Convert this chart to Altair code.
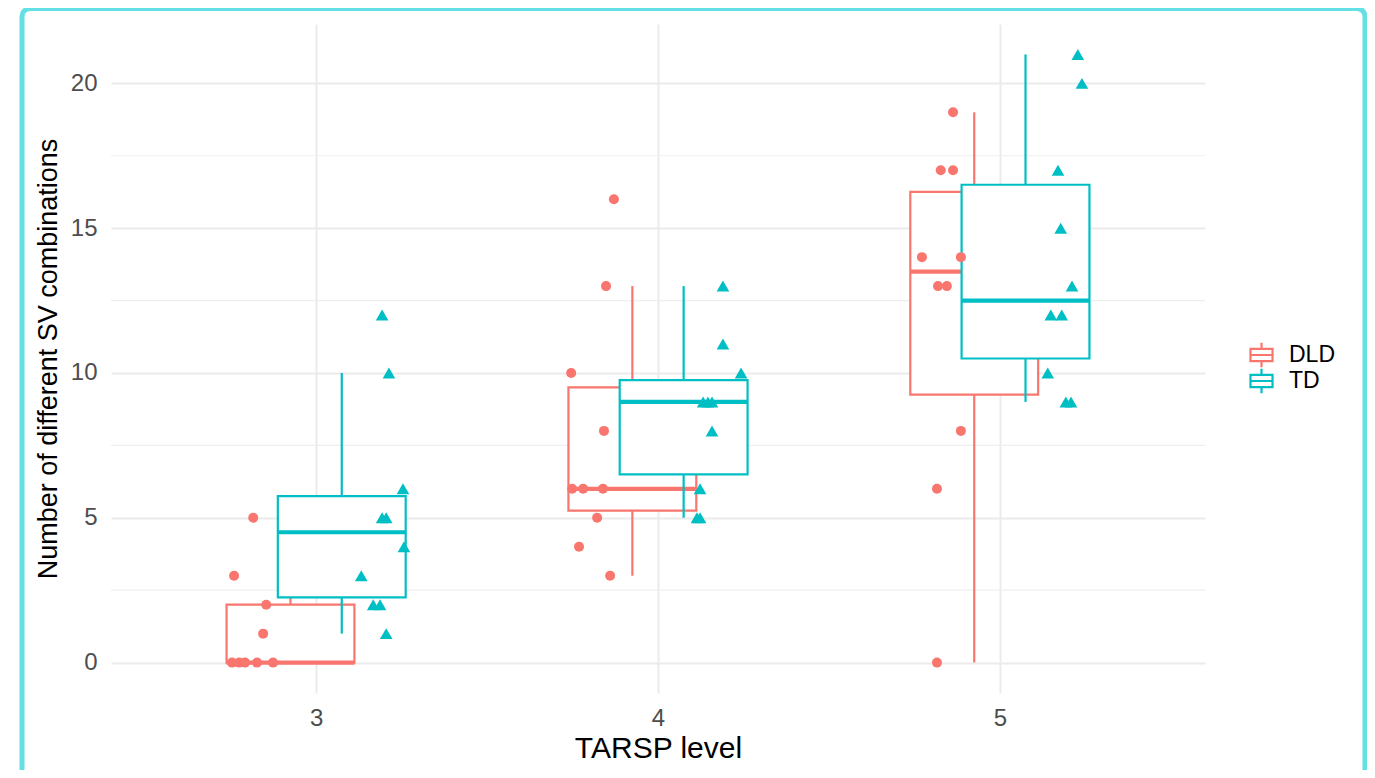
import altair as alt
import pandas as pd
import numpy as np

LEVELS = [3, 4, 5]
GROUPS = ["DLD", "TD"]
COLORS = ["#F8766D", "#00BFC4"]
Y_BREAKS = [0, 5, 10, 15, 20]
MINOR_BREAKS = [2.5, 7.5, 12.5, 17.5]

# values, with the horizontal jitter of each point
DLD_3 = [5, 3, 2, 1, 0, 0, 0, 0, 0]
DLD_3_JIT = [-0.184, -0.240, -0.146, -0.155, -0.246, -0.225, -0.208, -0.173, -0.126]
TD_3 = [12, 10, 6, 5, 5, 4, 3, 2, 2, 1]
TD_3_JIT = [0.193, 0.213, 0.254, 0.193, 0.205, 0.257, 0.132, 0.167, 0.187, 0.205]
DLD_4 = [16, 13, 10, 8, 6, 6, 6, 5, 4, 3]
DLD_4_JIT = [-0.129, -0.152, -0.254, -0.158, -0.251, -0.219, -0.161, -0.178, -0.231, -0.140]
TD_4 = [13, 11, 10, 9, 9, 9, 8, 6, 5, 5]
TD_4_JIT = [0.190, 0.190, 0.243, 0.132, 0.146, 0.158, 0.158, 0.123, 0.114, 0.123]
DLD_5 = [19, 17, 17, 14, 14, 13, 13, 8, 6, 0]
DLD_5_JIT = [-0.137, -0.173, -0.137, -0.228, -0.114, -0.181, -0.155, -0.114, -0.184, -0.184]
TD_5 = [21, 20, 17, 15, 13, 12, 12, 10, 9, 9]
TD_5_JIT = [0.228, 0.240, 0.170, 0.178, 0.211, 0.149, 0.181, 0.140, 0.193, 0.208]

SERIES = {
    (3, "DLD"): (DLD_3, DLD_3_JIT), (3, "TD"): (TD_3, TD_3_JIT),
    (4, "DLD"): (DLD_4, DLD_4_JIT), (4, "TD"): (TD_4, TD_4_JIT),
    (5, "DLD"): (DLD_5, DLD_5_JIT), (5, "TD"): (TD_5, TD_5_JIT),
}

BOX_SHIFT = 0.075
BOX_HALF = 0.187

pts, boxes = [], []
for (lvl, grp), (vals, jit) in SERIES.items():
    for v, j in zip(vals, jit):
        pts.append({"group": grp, "x": lvl + j, "value": v})
    a = np.array(vals, dtype=float)
    q1, med, q3 = np.percentile(a, [25, 50, 75])
    iqr = q3 - q1
    wlo = a[a >= q1 - 1.5 * iqr].min()
    whi = a[a <= q3 + 1.5 * iqr].max()
    c = lvl + (-BOX_SHIFT if grp == "DLD" else BOX_SHIFT)
    boxes.append({"group": grp, "leg": grp, "c": c, "lo": c - BOX_HALF, "hi": c + BOX_HALF,
                  "q1": q1, "med": med, "q3": q3, "wlo": wlo, "whi": whi})

pts_df = pd.DataFrame(pts)
box_df = pd.DataFrame(boxes)

FONT = "Liberation Sans"
W, H = 1094, 669
xscale = alt.Scale(domain=[2.4, 5.6], nice=False, zero=False)
yscale = alt.Scale(domain=[-1.05, 22.05], nice=False, zero=False)
cscale = alt.Scale(domain=GROUPS, range=COLORS)

x_axis = alt.Axis(values=LEVELS, format="d", title="TARSP level", grid=True,
                  gridColor="#EBEBEB", gridWidth=2, domain=False, ticks=False,
                  labelFontSize=24, labelColor="#4D4D4D", labelPadding=13,
                  titleFontSize=30, titleColor="black", titleFontWeight="normal",
                  titlePadding=3, labelFont=FONT, titleFont=FONT)
y_axis = alt.Axis(values=Y_BREAKS, title="Number of different SV combinations", grid=True,
                  gridColor="#EBEBEB", gridWidth=2, domain=False, ticks=False,
                  labelFontSize=24, labelColor="#4D4D4D", labelPadding=14,
                  titleFontSize=27, titleColor="black", titleFontWeight="normal",
                  titlePadding=8, labelFont=FONT, titleFont=FONT)

legend = alt.Legend(title=None, orient="none", legendX=1137, legendY=318,
                    symbolType="M-0.9,-0.5H0.9V0.5H-0.9Z M0,-0.5V-1 M0,0.5V1 M-0.9,0H0.9",
                    symbolSize=600, symbolFillColor="white", symbolStrokeWidth=2.2,
                    labelFontSize=23, labelColor="black", labelFont=FONT,
                    labelOffset=14, rowPadding=0, clipHeight=26)

minor = alt.Chart(pd.DataFrame({"m": MINOR_BREAKS})).mark_rule(
    color="#EFEFEF", strokeWidth=1.2).encode(
    y=alt.Y("m:Q", scale=yscale, axis=y_axis))

base = alt.Chart(box_df)
layers = [minor]
for g in GROUPS:
    b = base.transform_filter(alt.datum.group == g)
    wh1 = b.mark_rule(strokeWidth=2.2).encode(
        x=alt.X("c:Q", scale=xscale, axis=x_axis), y=alt.Y("wlo:Q", scale=yscale), y2="q1:Q",
        color=alt.Color("group:N", scale=cscale, legend=None))
    wh2 = b.mark_rule(strokeWidth=2.2).encode(
        x=alt.X("c:Q", scale=xscale), y=alt.Y("q3:Q", scale=yscale), y2="whi:Q",
        color=alt.Color("group:N", scale=cscale, legend=None))
    rect = b.mark_rect(fill="white", strokeWidth=2.2).encode(
        x=alt.X("lo:Q", scale=xscale), x2="hi:Q",
        y=alt.Y("q1:Q", scale=yscale), y2="q3:Q",
        stroke=alt.Stroke("leg:N", scale=alt.Scale(range=COLORS), legend=legend))
    medr = b.mark_rule(strokeWidth=4.2).encode(
        x=alt.X("lo:Q", scale=xscale), x2="hi:Q", y=alt.Y("med:Q", scale=yscale),
        color=alt.Color("group:N", scale=cscale, legend=None))
    layers += [wh1, wh2, rect, medr]

points = alt.Chart(pts_df).mark_point(filled=True, opacity=1, size=100).encode(
    x=alt.X("x:Q", scale=xscale),
    y=alt.Y("value:Q", scale=yscale),
    color=alt.Color("group:N", scale=cscale, legend=None),
    shape=alt.Shape("group:N", scale=alt.Scale(domain=GROUPS, range=["circle", "triangle-up"]), legend=None),
    size=alt.Size("group:N", scale=alt.Scale(domain=GROUPS, range=[100, 160]), legend=None),
)
layers.append(points)

frame = alt.Chart(pd.DataFrame({"k": [0]})).mark_rect(
    fill="transparent", stroke="#62E0E3", strokeWidth=5, cornerRadius=8).encode(
    x=alt.value(-89), x2=alt.value(1254), y=alt.value(-15.5), y2=alt.value(790))
layers.append(frame)

chart = alt.layer(*layers).resolve_scale(color="shared", stroke="shared").properties(
    width=W, height=H,
    autosize=alt.AutoSizeParams(type="none"),
    padding={"left": 103, "top": 16, "right": 162, "bottom": 77},
).configure(font=FONT).configure_view(stroke="transparent", strokeWidth=0)

chart.save("out.html", embed_options={"renderer": "svg", "actions": False})
